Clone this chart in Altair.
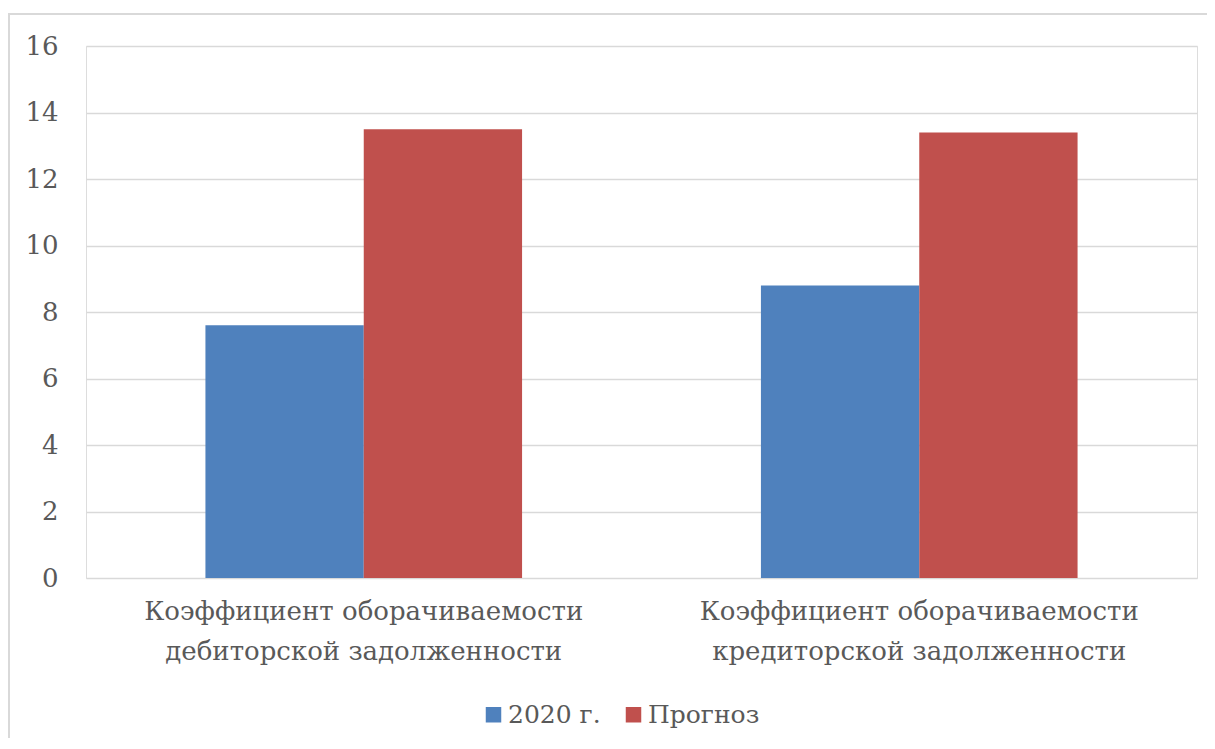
import altair as alt
import pandas as pd

categories = [
    "Коэффициент оборачиваемости дебиторской задолженности",
    "Коэффициент оборачиваемости кредиторской задолженности",
]
series = ["2020 г.", "Прогноз"]
values_2020 = [7.6, 8.8]
values_forecast = [13.5, 13.4]
colors = ["#4f81bd", "#c0504d"]
y_ticks = [0, 2, 4, 6, 8, 10, 12, 14, 16]

rows = []
for i, c in enumerate(categories):
    rows.append({"cat": c, "series": series[0], "value": values_2020[i]})
    rows.append({"cat": c, "series": series[1], "value": values_forecast[i]})
df = pd.DataFrame(rows)

FONT = "DejaVu Serif"
FS = 26
TXT = "#595959"

bars = alt.Chart(df).mark_bar().encode(
    x=alt.X(
        "cat:N",
        sort=categories,
        title=None,
        scale=alt.Scale(paddingInner=0.43, paddingOuter=0.215),
        axis=alt.Axis(
            labelAngle=0,
            labelFont=FONT,
            labelFontSize=FS,
            labelColor=TXT,
            labelPadding=20,
            labelLineHeight=40,
            labelLimit=1000,
            domain=False,
            ticks=False,
            grid=False,
            labelExpr="[join(slice(split(datum.value, ' '), 0, 2), ' '), join(slice(split(datum.value, ' '), 2), ' ')]",
        ),
    ),
    xOffset=alt.XOffset("series:N", sort=series, scale=alt.Scale(paddingInner=0, paddingOuter=0)),
    y=alt.Y(
        "value:Q",
        title=None,
        scale=alt.Scale(domain=[0, 16], nice=False),
        axis=alt.Axis(
            values=y_ticks,
            labelFont=FONT,
            labelFontSize=FS,
            labelColor=TXT,
            labelPadding=28,
            domain=False,
            ticks=False,
            gridColor="#d9d9d9",
            gridWidth=1.5,
        ),
    ),
    color=alt.Color(
        "series:N",
        sort=series,
        scale=alt.Scale(domain=series, range=colors),
        legend=alt.Legend(
            title=None,
            orient="none",
            direction="horizontal",
            legendX=395,
            legendY=656,
            symbolType="square",
            symbolSize=240,
            symbolStrokeWidth=0,
            labelFont=FONT,
            labelFontSize=25,
            labelColor=TXT,
            columnPadding=20,
            labelOffset=2,
            padding=0,
        ),
    ),
)

border = alt.Chart(alt.Data(values=[{"a": 1}])).mark_rect(
    fill=None, stroke="#d9d9d9", strokeWidth=2
).encode(
    x=alt.value(-77), x2=alt.value(1300), y=alt.value(-32), y2=alt.value(800)
)

chart = alt.layer(border, bars).properties(
    width=1111,
    height=532,
    padding={"left": 78, "top": 38, "right": 10, "bottom": 160},
    autosize=alt.AutoSizeParams(type="none"),
).configure_view(stroke=None).configure(background="white")

chart.save("out.html", embed_options={"renderer": "svg", "actions": False})
